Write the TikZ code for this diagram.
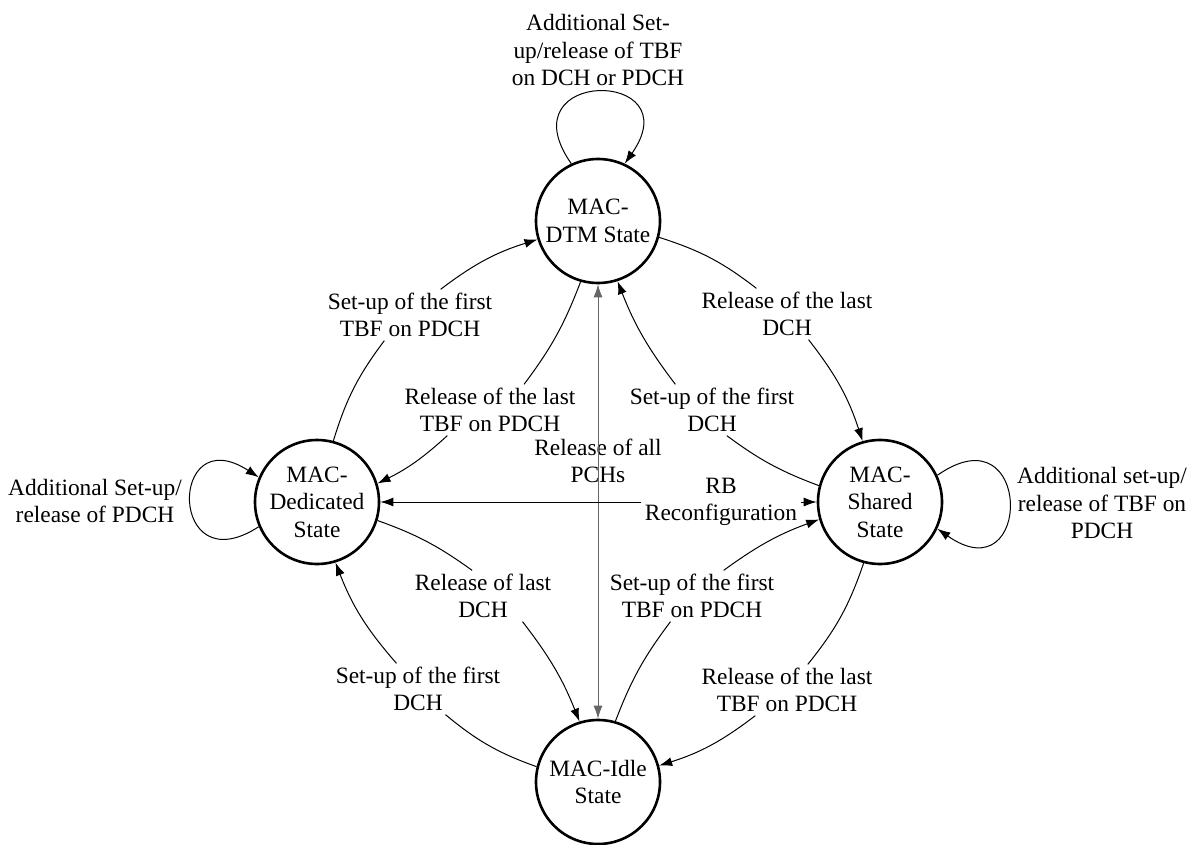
\documentclass[tikz,border=0pt]{standalone}
\usepackage{fontspec}
\setmainfont{Liberation Serif}
\usetikzlibrary{arrows.meta}

\tikzset{
  state/.style={draw, circle, line width=1.3pt, minimum size=62pt,
    inner sep=0pt, align=center},
  tlabel/.style={align=center, inner sep=1.5pt},
}

\begin{document}
\begin{tikzpicture}[x=0.5pt, y=-0.5pt, line width=0.5pt,
    >={Latex[length=6.5pt,width=4.5pt]},
    every node/.style={font=\fontsize{11.7}{13.8}\selectfont}]
    \useasboundingbox (0,0) rectangle (1189,845);
    %% States
    \node[state] (dtm) at (598,221) {MAC-\\DTM State};
    \node[state] (ded) at (317,502) {MAC-\\Dedicated\\State};
    \node[state] (shd) at (880,502) {MAC-\\Shared\\State};
    \node[state] (idle) at (598,782) {MAC-Idle\\State};
    %% Self loops
    \node[tlabel] (dtmloop) at (598,50)
        {Additional Set-\\up/release of TBF\\on DCH or PDCH};
    \node[tlabel] (dedloop) at (95,501) {Additional Set-up/\\release of PDCH};
    \node[tlabel] (shdloop) at (1102,503)
        {Additional set-up/\\release of TBF on\\PDCH};
    \draw[->] (dtm.115) to[out=125,in=55,looseness=5.6] (dtm.65);
    \draw[->] (ded.203) to[out=213,in=147,looseness=5.6] (ded.157);
    \draw[->] (shd.25) to[out=35,in=-35,looseness=5.6] (shd.-25);
    %% Transition labels
    \node[tlabel] (dedup) at (410,315) {Set-up of the first\\TBF on PDCH};
    \node[tlabel] (dedrel) at (490,410) {Release of the last\\TBF on PDCH};
    \node[tlabel] (shdrel) at (787,314) {Release of the last\\DCH};
    \node[tlabel] (shdup) at (712,410) {Set-up of the first\\DCH};
    \node[tlabel] (allrel) at (598,461) {Release of all\\PCHs};
    \node[tlabel] (rb) at (721,502) {RB\\Reconfiguration};
    \node[tlabel] (idlerel) at (483,596) {Release of last\\DCH};
    \node[tlabel] (idleup) at (692,596) {Set-up of the first\\TBF on PDCH};
    \node[tlabel] (dedidle) at (418,689) {Set-up of the first\\DCH};
    \node[tlabel] (shdidle) at (787,690) {Release of the last\\TBF on PDCH};
    %% Upper half
    \draw (ded.75) to[bend left=10] (dedup.-135);
    \draw[->] (dedup.40) to[bend left=10] (dtm.197);
    \draw (dtm.254) to[bend left=8] (dedrel.37);
    \draw[->] (dedrel.-149) to[bend left=8] (ded.17);
    \draw (dtm.-15) to[bend left=10] (shdrel.140);
    \draw[->] (shdrel.-50) to[bend left=10] (shd.106);
    \draw (shd.165) to[bend left=8] (shdup.-60);
    \draw[->] (shdup.145) to[bend left=8] (dtm.-72);
    %% Straight ones
    \draw[<->, black!60] (dtm) -- (idle);
    \draw[->] (rb) -- (ded);
    \draw[->] (rb) -- (shd);
    %% Lower half
    \draw (ded.-17) to[bend left=8] (idlerel.113);
    \draw[->] (idlerel.-33) to[bend left=8] (idle.107);
    \draw (idle.74) to[bend left=8] (idleup.-130);
    \draw[->] (idleup.39) to[bend left=8] (shd.196);
    \draw (idle.166) to[bend left=10] (dedidle.-43);
    \draw[->] (dedidle.130) to[bend left=10] (ded.-73);
    \draw (shd.-105) to[bend left=10] (shdidle.51);
    \draw[->] (shdidle.-141) to[bend left=10] (idle.15);
\end{tikzpicture}
\end{document}
